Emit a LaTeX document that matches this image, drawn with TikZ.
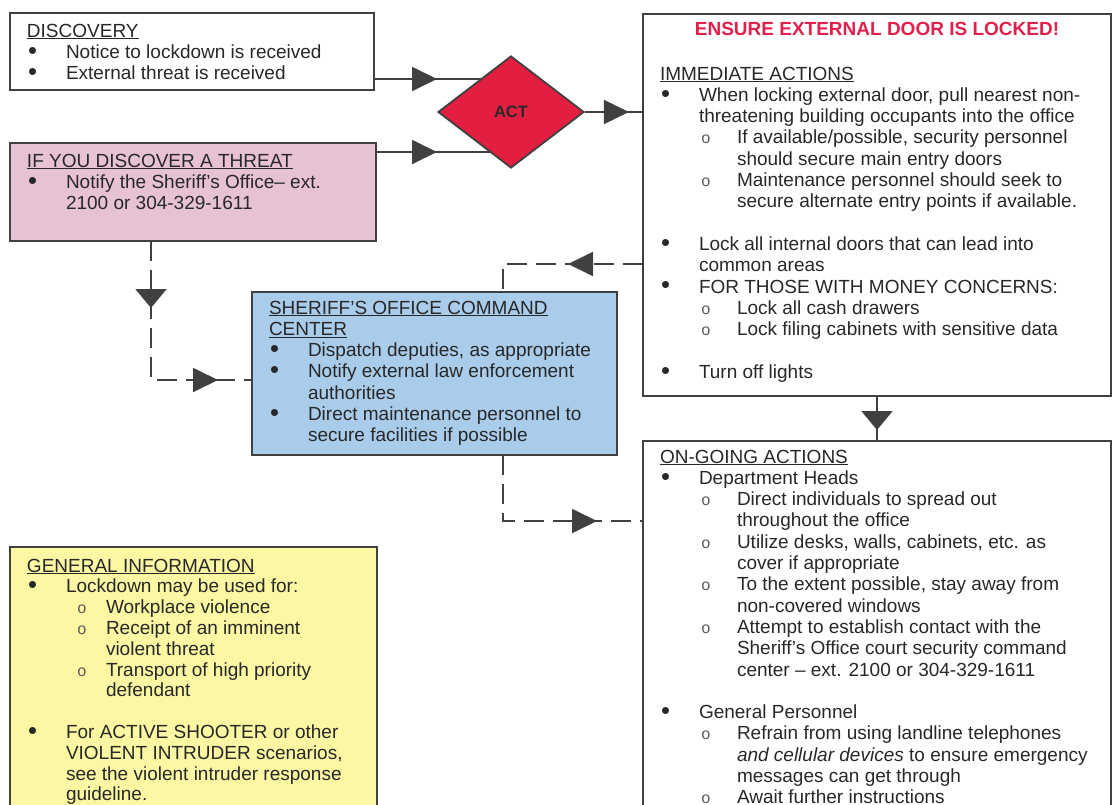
\documentclass[tikz,border=0pt]{standalone}
\usepackage{fontspec}
\setmainfont{Liberation Sans}
\newfontfamily\monofont{Liberation Mono}
\usetikzlibrary{shapes.geometric,arrows.meta,decorations.markings,backgrounds}

\definecolor{boxline}{RGB}{64,64,64}
\definecolor{txt}{RGB}{40,40,40}
\definecolor{subgray}{RGB}{90,90,90}
\definecolor{pinkfill}{RGB}{231,194,213}
\definecolor{bluefill}{RGB}{169,204,234}
\definecolor{yellowfill}{RGB}{251,247,162}
\definecolor{actred}{RGB}{228,30,64}
\definecolor{titlered}{RGB}{226,32,76}

% text inside a box: width, height, first baseline, content
\newcommand\inbox[4]{\hspace*{17pt}\parbox[c][#2][t]{\dimexpr#1-17pt\relax}{%
  \fontsize{19}{21.3}\selectfont\raggedright\let\\\newline\color{txt}\rule{0pt}{#3}#4}}
\newlength\subpos \setlength\subpos{41pt}
\newlength\subtxt \setlength\subtxt{77pt}
\newcommand\dotmark{\raisebox{-0.8pt}{\scalebox{1.35}{\textbullet}}}
\newcommand\bul[1]{\par\hangindent=39pt\hangafter=1\noindent\makebox[39pt][l]{\hspace*{1pt}\dotmark}#1}
\newcommand\subo{{\monofont\fontsize{16}{16}\selectfont\color{subgray}o}}
\newcommand\subbul[1]{\par\hangindent=\subtxt\hangafter=1\noindent\hspace*{\subpos}\makebox[\dimexpr\subtxt-\subpos\relax][l]{\subo}#1}
\newcommand\gap{\par\vspace{\baselineskip}}

\begin{document}
\begin{tikzpicture}[x=1pt,y=-1pt,
  box/.style={draw=boxline,line width=1.8pt,anchor=north west,inner sep=0pt,outer sep=0pt},
  flow/.style={draw=boxline,line width=1.8pt},
  dashflow/.style={flow,dash pattern=on 20pt off 9pt},
  tiph/.style={postaction={decorate,decoration={markings,
    mark=at position #1 with {\arrow{Triangle[length=25pt,width=24pt]}}}}},
  tipv/.style={postaction={decorate,decoration={markings,
    mark=at position #1 with {\arrow{Triangle[length=19pt,width=31pt]}}}}}]
\path[use as bounding box] (0,0) rectangle (1113,804);

% boxes
\node[box] (disc) at (10,13) {\inbox{364pt}{77pt}{24pt}{\underline{DISCOVERY}
  \bul{Notice to lockdown is received}
  \bul{External threat is received}}};
\node[box,fill=pinkfill] (threat) at (10,143) {\inbox{366pt}{98pt}{24pt}{\underline{IF YOU DISCOVER A THREAT}
  \bul{Notify the Sheriff’s Office– ext.\\2100 or 304-329-1611}}};
\node[diamond,draw=boxline,fill=actred,line width=1.8pt,minimum width=146pt,minimum height=112pt,
  inner sep=0pt,text=txt,font=\bfseries\fontsize{16.5}{16.5}\selectfont] (act) at (511,112) {ACT};
\node[box] (immed) at (643,14) {\inbox{468pt}{382pt}{21pt}{%
  \hspace*{-17pt}\makebox[468pt]{\bfseries\color{titlered}ENSURE EXTERNAL DOOR IS LOCKED!}\par
  \vspace{23.7pt}\underline{IMMEDIATE ACTIONS}
  \bul{When locking external door, pull nearest non-\\threatening building occupants into the office}
  \subbul{If available/possible, security personnel\\should secure main entry doors}
  \subbul{Maintenance personnel should seek to\\secure alternate entry points if available.}
  \gap
  \bul{Lock all internal doors that can lead into\\common areas}
  \bul{FOR THOSE WITH MONEY CONCERNS:}
  \subbul{Lock all cash drawers}
  \subbul{Lock filing cabinets with sensitive data}
  \gap
  \bul{Turn off lights}}};
\node[box,fill=bluefill] (cmd) at (252,292) {\inbox{365pt}{163pt}{22pt}{%
  \underline{SHERIFF’S OFFICE COMMAND}\\\underline{CENTER}
  \bul{Dispatch deputies, as appropriate}
  \bul{Notify external law enforcement\\authorities}
  \bul{Direct maintenance personnel to\\secure facilities if possible}}};
\node[box] (ongo) at (643,441) {\inbox{468pt}{400pt}{22pt}{\underline{ON-GOING ACTIONS}
  \bul{Department Heads}
  \subbul{Direct individuals to spread out\\throughout the office}
  \subbul{Utilize desks, walls, cabinets, etc. as\\cover if appropriate}
  \subbul{To the extent possible, stay away from\\non-covered windows}
  \subbul{Attempt to establish contact with the\\Sheriff’s Office court security command\\center – ext. 2100 or 304-329-1611}
  \gap
  \bul{General Personnel}
  \subbul{Refrain from using landline telephones\\\textit{and cellular devices} to ensure emergency\\messages can get through}
  \subbul{Await further instructions}}};
\node[box,fill=yellowfill] (gen) at (10,547) {\inbox{367pt}{300pt}{25pt}{%
  \baselineskip=20.8pt\setlength\subpos{50pt}\setlength\subtxt{79pt}%
  \underline{GENERAL INFORMATION}
  \bul{Lockdown may be used for:}
  \subbul{Workplace violence}
  \subbul{Receipt of an imminent\\violent threat}
  \subbul{Transport of high priority\\defendant}
  \gap
  \bul{For ACTIVE SHOOTER or other\\VIOLENT INTRUDER scenarios,\\see the violent intruder response\\guideline.}}};

% connectors
\begin{scope}[on background layer]
\fill[white] (0,0) rectangle (1113,804);
\draw[flow,tiph=63pt] (disc.east |- 0,79) -- (act.center |- 0,79);
\draw[flow,tiph=61pt] (threat.east |- 0,152) -- (act.center |- 0,152);
\draw[flow,tiph=44pt] (act.east) -- (immed.west |- act.east);
\draw[dashflow,tipv=67pt,tiph=206pt] (threat.south -| 151,0) -- (151,380) -- (cmd.west |- 0,380);
\draw[dashflow,tiph=75pt] (immed.west |- 0,264) -- (503,264) -- (cmd.north -| 503,0);
\draw[dashflow,tiph=160pt] (cmd.south -| 503,0) -- (503,521) -- (ongo.west |- 0,521);
\draw[flow,tipv=34pt] (immed.south) -- (ongo.north);
\end{scope}
\end{tikzpicture}
\end{document}
